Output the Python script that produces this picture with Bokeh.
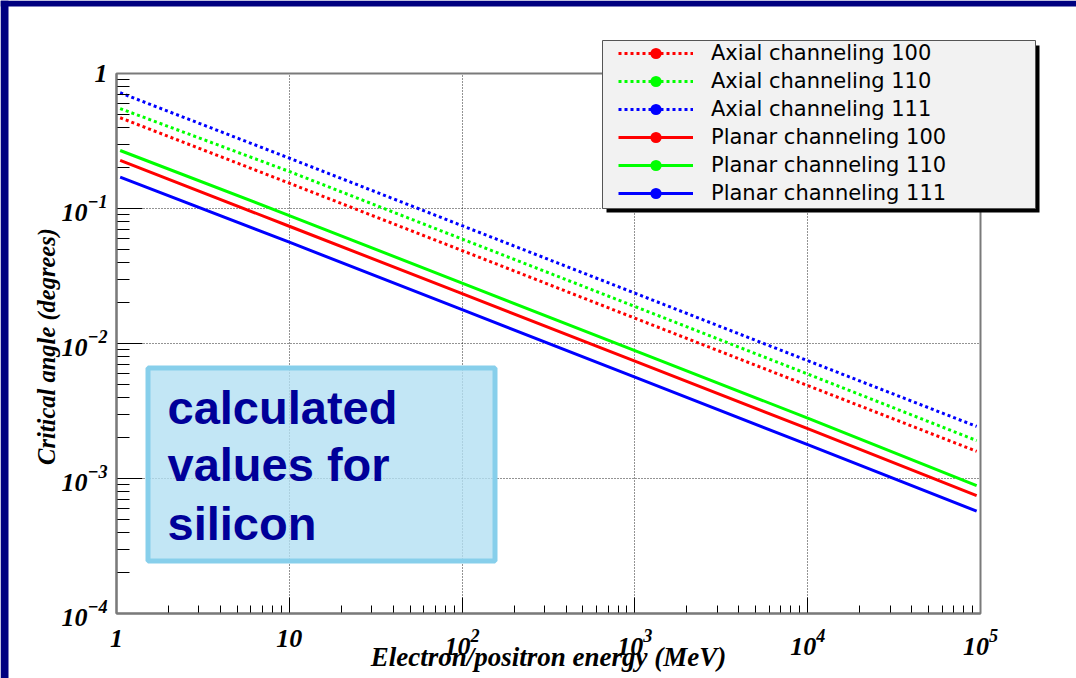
import math
from bokeh.plotting import figure
from bokeh.models import (ColumnDataSource, Legend, LegendItem, BoxAnnotation, Label,
                          LogTickFormatter, Grid)
from bokeh.embed import file_html
from bokeh.resources import INLINE

# ---------------- data ----------------
energy_mev = [1.05, 10, 100, 1000, 10000, 95000]
axial_100 = [0.47, 0.154, 0.0488, 0.0154, 0.00488, 0.00159]
axial_110 = [0.55, 0.188, 0.0594, 0.0188, 0.00594, 0.00191]
axial_111 = [0.72, 0.236, 0.0746, 0.0236, 0.00746, 0.00243]
planar_100 = [0.227, 0.0739, 0.0234, 0.0074, 0.00234, 0.000748]
planar_110 = [0.269, 0.0887, 0.0280, 0.00887, 0.00280, 0.000887]
planar_111 = [0.171, 0.0563, 0.0178, 0.00563, 0.00178, 0.000573]
series_names = ["Axial channeling 100", "Axial channeling 110", "Axial channeling 111",
                "Planar channeling 100", "Planar channeling 110", "Planar channeling 111"]
x_axis_limits = (1, 1e5)
y_axis_limits = (1e-4, 1)
x_title = "Electron/positron energy (MeV)"
y_title = "Critical angle (degrees)"
note_lines = ["calculated", "values for", "silicon"]

# ---------------- layout constants (page pixels) ----------------
PW, PH = 1076, 678
AX_L, AX_T, AX_R, AX_B = 116, 73, 980, 613     # drawn (ROOT) frame
DEC_X = (AX_R - AX_L) / math.log10(x_axis_limits[1] / x_axis_limits[0])
DEC_Y = (AX_B - AX_T) / math.log10(y_axis_limits[1] / y_axis_limits[0])
x_start = x_axis_limits[0] * 10 ** (-AX_L / DEC_X)
x_end = x_axis_limits[1] * 10 ** ((PW - AX_R) / DEC_X)
y_start = y_axis_limits[0] * 10 ** (-(PH - AX_B) / DEC_Y)
y_end = y_axis_limits[1] * 10 ** (AX_T / DEC_Y)

# the frame fills the whole canvas; the axes are pinned at the drawn frame
p = figure(width=PW, height=PH, x_axis_type="log", y_axis_type="log",
           x_range=(x_start, x_end), y_range=(y_start, y_end), title=None,
           output_backend="svg", toolbar_location=None,
           min_border_left=0, min_border_right=0, min_border_top=0, min_border_bottom=0,
           background_fill_color="white", border_fill_color="white")
p.outline_line_color = None

for ax in (p.xaxis[0], p.yaxis[0]):
    ax.axis_line_color = "#6a6a6a"
    ax.axis_line_width = 2
    ax.major_tick_out = 0
    ax.minor_tick_out = 0
    ax.major_tick_line_color = "black"
    ax.minor_tick_line_color = "black"
    ax.major_label_text_font = "Liberation Serif"
    ax.major_label_text_font_style = "bold italic"
    ax.major_label_text_font_size = "26px"
    ax.major_label_text_color = "black"

p.xaxis.fixed_location = y_axis_limits[0]
p.yaxis.fixed_location = x_axis_limits[0]
p.xaxis.bounds = x_axis_limits
p.yaxis.bounds = y_axis_limits
p.xaxis.major_tick_in = 16
p.xaxis.minor_tick_in = 8
p.yaxis.major_tick_in = 26
p.yaxis.minor_tick_in = 13
p.xaxis.formatter = LogTickFormatter(min_exponent=2)
p.yaxis.formatter = LogTickFormatter(min_exponent=1)
p.xaxis.major_label_standoff = 16
p.yaxis.major_label_standoff = 9

p.xgrid.bounds = x_axis_limits
p.ygrid.bounds = y_axis_limits
has_cross = "cross_bounds" in Grid.properties()
if has_cross:
    p.xgrid.cross_bounds = y_axis_limits
    p.ygrid.cross_bounds = x_axis_limits
p.grid.grid_line_color = "black"
p.grid.grid_line_dash = "1 2"
p.grid.grid_line_width = 1
p.grid.grid_line_alpha = 0.85


def cbox(l, t, r, b, **kw):
    return BoxAnnotation(left=l, right=r, top=t, bottom=b,
                         left_units="canvas", right_units="canvas",
                         top_units="canvas", bottom_units="canvas", **kw)


if not has_cross:
    for box in [(0, 0, PW, AX_T), (0, AX_B, PW, PH), (0, 0, AX_L, PH), (AX_R, 0, PW, PH)]:
        p.add_layout(cbox(*box, fill_color="white", fill_alpha=1, line_color=None,
                          level="underlay"))

# drawn ROOT frame
p.add_layout(BoxAnnotation(left=x_axis_limits[0], right=x_axis_limits[1],
                           bottom=y_axis_limits[0], top=y_axis_limits[1],
                           fill_alpha=0, line_color="#7a7a7a", line_alpha=1, line_width=2))

# ---------------- curves ----------------
series = [axial_100, axial_110, axial_111, planar_100, planar_110, planar_111]
colors = ["#ff0000", "#00ff00", "#0000ff", "#ff0000", "#00ff00", "#0000ff"]
dashes = ["3 3", "3 3", "3 3", "solid", "solid", "solid"]

items = []
for name, vals, col, dash in zip(series_names, series, colors, dashes):
    src = ColumnDataSource(dict(x=energy_mev, y=vals))
    lr = p.line("x", "y", source=src, line_color=col, line_width=3, line_dash=dash)
    mr = p.scatter("x", "y", source=src, marker="circle", size=0,
                   fill_color=col, line_color=None)
    items.append(LegendItem(label=name, renderers=[lr, mr]))

# ---------------- legend with shadow ----------------
LX0, LY0, LX1, LY1 = 602, 40, 1035, 208
p.add_layout(cbox(LX0 + 4, LY0 + 5, LX1 + 4, LY1 + 4, fill_color="black", fill_alpha=1,
                  line_color=None))
p.add_layout(cbox(LX0, LY0, LX1, LY1, fill_color="#f2f2f2", fill_alpha=1,
                  line_color="#555555", line_alpha=1, line_width=1))

legend = Legend(items=items, location=(618, PH - 207),
                glyph_width=75, glyph_height=28, label_height=28, spacing=0,
                padding=0, margin=0, label_standoff=18,
                border_line_color=None, background_fill_alpha=0,
                label_text_font="DejaVu Sans", label_text_font_size="21px",
                label_text_color="black")
p.add_layout(legend)

# ---------------- note box ----------------
p.add_layout(cbox(147.5, 367.5, 494.5, 560.5, fill_color="#b3e0f2", fill_alpha=0.8,
                  line_color="#87cfeb", line_alpha=1, line_width=5))
for txt, base in zip(note_lines, [425, 482, 541]):
    p.add_layout(Label(x=167, y=base - 18, x_units="canvas", y_units="canvas",
                       text=txt, text_baseline="alphabetic", text_align="left",
                       text_font="Liberation Sans", text_font_style="bold",
                       text_font_size="47px", text_color="#000099"))

# ---------------- axis titles ----------------
p.add_layout(Label(x=548, y=656, x_units="canvas", y_units="canvas", text=x_title,
                   text_align="center", text_baseline="middle",
                   text_font="Liberation Serif", text_font_style="bold italic",
                   text_font_size="27px", text_color="black"))
p.add_layout(Label(x=46, y=346, x_units="canvas", y_units="canvas", text=y_title,
                   angle=90, angle_units="deg", text_align="center", text_baseline="middle",
                   text_font="Liberation Serif", text_font_style="bold italic",
                   text_font_size="24.5px", text_color="black"))

# ---------------- slide border (navy) ----------------
navy = "#000080"
p.add_layout(cbox(0, 0, PW, 6, fill_color=navy, fill_alpha=1, line_color=None))
p.add_layout(cbox(0, 0, 8, PH, fill_color=navy, fill_alpha=1, line_color=None))

open("out.html", "w").write(file_html(p, INLINE))
